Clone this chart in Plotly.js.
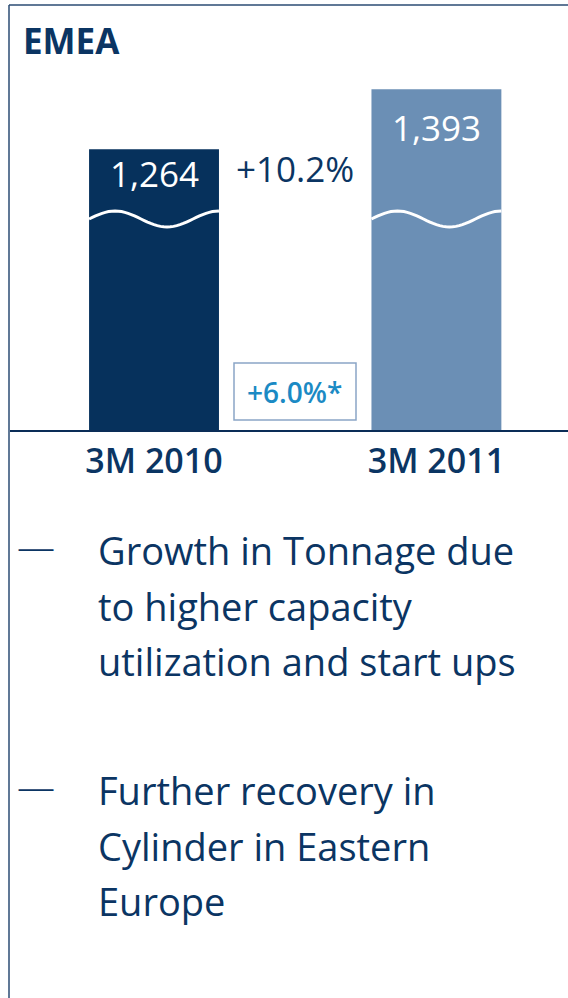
<!DOCTYPE html>
<html>
<head>
<meta charset="utf-8">
<script src="https://cdn.plot.ly/plotly-3.0.1.min.js"></script>
<style>html,body{margin:0;padding:0;background:#fff;}#chart{width:568px;height:998px;}</style>
</head>
<body>
<div id="chart"></div>
<script>
const title = 'EMEA';
const categories = ['3M 2010', '3M 2011'];
const values = [1264, 1393];
const valueLabels = ['1,264', '1,393'];
const growthLabel = '+10.2%';
const adjGrowthLabel = '+6.0%*';
const bullet1 = ['Growth in Tonnage due', 'to higher capacity', 'utilization and start ups'];
const bullet2 = ['Further recovery in', 'Cylinder in Eastern', 'Europe'];

const NAVY = '#06315c';
const STEEL = '#6b8fb5';
const TEXT = '#0b3563';
const FONT = 'Open Sans, Noto Sans, sans-serif';

const W = 568, H = 998, ML = 10, MR = 0, MT = 5, MB = 568;
const px = x => (x - ML) / (W - ML - MR);
const py = y => (H - MB - y) / (H - MT - MB);

const barWidth = 0.46;
const xIdx = categories.map((c, i) => i);

const traces = [{
  type: 'bar',
  x: xIdx,
  y: values,
  width: barWidth,
  marker: {color: [NAVY, STEEL], line: {width: 0}},
  hoverinfo: 'skip'
}];

function wavePath(i) {
  const x0 = i - barWidth / 2, x1 = i + barWidth / 2;
  const mid = py(219), amp = (py(211) - py(227)) / 2;
  let d = '';
  const n = 40;
  for (let k = 0; k <= n; k++) {
    const t = k / n;
    const x = x0 + (x1 - x0) * t;
    const y = mid + amp * Math.cos(2 * Math.PI * (t - 0.2) / 0.8);
    d += (k === 0 ? 'M' : 'L') + x.toFixed(4) + ',' + y.toFixed(4);
  }
  return d;
}

const shapes = xIdx.map(i => ({
  type: 'path', xref: 'x', yref: 'paper', path: wavePath(i),
  line: {color: '#ffffff', width: 3}
}));
// frame lines
shapes.push({type: 'line', xref: 'paper', yref: 'paper', x0: px(9), x1: px(568), y0: py(5), y1: py(5), line: {color: '#2b4b73', width: 1.5}});
shapes.push({type: 'line', xref: 'paper', yref: 'paper', x0: px(9), x1: px(9), y0: py(5), y1: py(998), line: {color: '#2b4b73', width: 1.5}});
// box around adjusted growth
shapes.push({type: 'rect', xref: 'paper', yref: 'paper', x0: px(234), x1: px(356), y0: py(420), y1: py(363), line: {color: '#8aa5c6', width: 1.5}});

const valueShift = [-24, -38];
const annotations = [];
xIdx.forEach(i => {
  annotations.push({
    x: i, y: values[i], xref: 'x', yref: 'y', yanchor: 'middle', yshift: valueShift[i],
    text: valueLabels[i], showarrow: false,
    font: {family: FONT, size: 35, color: '#ffffff'}
  });
});
annotations.push({
  xref: 'paper', yref: 'paper', x: px(295), y: py(168), xanchor: 'center', yanchor: 'middle',
  text: growthLabel, showarrow: false, font: {family: FONT, size: 35, color: TEXT}
});
annotations.push({
  xref: 'paper', yref: 'paper', x: px(294), y: py(392), xanchor: 'center', yanchor: 'middle',
  text: adjGrowthLabel, showarrow: false, font: {family: FONT, size: 28, weight: 600, color: '#1b8ac4'}
});
annotations.push({
  xref: 'paper', yref: 'paper', x: px(21), y: py(40), xanchor: 'left', yanchor: 'middle',
  text: '<b>' + title + '</b>', showarrow: false, font: {family: FONT, size: 35, color: TEXT}
});

function addBullet(lines, y0) {
  annotations.push({
    xref: 'paper', yref: 'paper', x: px(15), y: py(y0 - 4), xanchor: 'left', yanchor: 'middle',
    text: '—', showarrow: false, font: {family: FONT, size: 38, weight: 300, color: TEXT}
  });
  lines.forEach((t, k) => {
    annotations.push({
      xref: 'paper', yref: 'paper', x: px(96), y: py(y0 + k * 55.5), xanchor: 'left', yanchor: 'middle',
      text: t, showarrow: false, font: {family: FONT, size: 38, color: TEXT}
    });
  });
}
addBullet(bullet1, 550);
addBullet(bullet2, 790);

const layout = {
  width: W, height: H,
  margin: {l: ML, r: MR, t: MT, b: MB, pad: 0},
  paper_bgcolor: '#ffffff', plot_bgcolor: '#ffffff',
  showlegend: false,
  xaxis: {
    range: [-0.51, 1.466], tickvals: xIdx, ticktext: categories,
    showgrid: false, zeroline: false, showline: true, linecolor: '#0a2d57', linewidth: 2,
    ticks: '', ticklabelstandoff: 0,
    tickfont: {family: FONT, size: 34, weight: 600, color: TEXT}, fixedrange: true
  },
  yaxis: {range: [660, 1574], visible: false, showgrid: false, zeroline: false, fixedrange: true},
  shapes: shapes,
  annotations: annotations
};

Plotly.newPlot('chart', traces, layout, {displayModeBar: false, staticPlot: true});
</script>
</body>
</html>
